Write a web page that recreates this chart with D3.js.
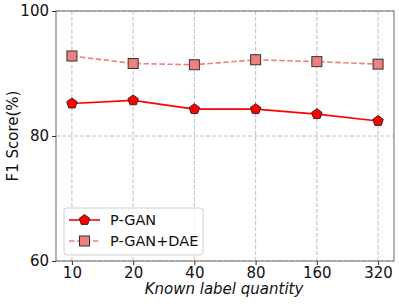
<!DOCTYPE html>
<html><head><meta charset="utf-8">
<script src="https://cdn.jsdelivr.net/npm/d3@7"></script>
<style>body{margin:0;background:#fff}svg{display:block}text{font-family:"DejaVu Sans",sans-serif}</style>
</head><body>
<svg id="c" width="399" height="306"></svg>
<script>
const categories = ["10","20","40","80","160","320"];
const pgan = [85.2, 85.7, 84.3, 84.3, 83.5, 82.4];
const pganDae = [92.8, 91.6, 91.4, 92.2, 91.9, 91.5];
const yTicks = [60, 80, 100];
const seriesNames = ["P-GAN", "P-GAN+DAE"];

const svg = d3.select("#c");
const L = 56, R = 394, T = 11, B = 261;
const x = d3.scalePoint().domain(categories).range([L, R]).padding(0.26);
const y = d3.scaleLinear().domain([60, 100]).range([B, T]);

// grid
const g = svg.append("g");
g.selectAll(".vx").data(categories).join("line")
  .attr("x1", d => x(d)).attr("x2", d => x(d)).attr("y1", T).attr("y2", B)
  .attr("stroke", "#b0b0b0").attr("stroke-width", 0.8).attr("stroke-dasharray", "4,2");
g.selectAll(".hy").data(yTicks).join("line")
  .attr("x1", L).attr("x2", R).attr("y1", d => y(d)).attr("y2", d => y(d))
  .attr("stroke", "#b0b0b0").attr("stroke-width", 0.8).attr("stroke-dasharray", "4,2");

// lines
const line = d3.line().x((d, i) => x(categories[i])).y(d => y(d));
svg.append("path").datum(pganDae).attr("d", line).attr("fill", "none")
  .attr("stroke", "#f08080").attr("stroke-width", 1.6).attr("stroke-dasharray", "5.5,2.5");
svg.append("path").datum(pgan).attr("d", line).attr("fill", "none")
  .attr("stroke", "red").attr("stroke-width", 1.6);

function pentagonPath(cx, cy, r) {
  const pts = d3.range(5).map(k => {
    const a = -Math.PI / 2 + k * 2 * Math.PI / 5;
    return [cx + r * Math.cos(a), cy + r * Math.sin(a)];
  });
  return "M" + pts.map(p => p.join(",")).join("L") + "Z";
}
svg.selectAll(".sq").data(pganDae).join("rect")
  .attr("x", (d, i) => x(categories[i]) - 5).attr("y", d => y(d) - 5)
  .attr("width", 10).attr("height", 10)
  .attr("fill", "#f08080").attr("stroke", "#333").attr("stroke-width", 1);
svg.selectAll(".pt").data(pgan).join("path")
  .attr("d", (d, i) => pentagonPath(x(categories[i]), y(d), 5.5))
  .attr("fill", "red").attr("stroke", "#222").attr("stroke-width", 0.9);

// axes frame
svg.append("rect").attr("x", L).attr("y", T).attr("width", R - L).attr("height", B - T)
  .attr("fill", "none").attr("stroke", "#808080").attr("stroke-width", 1.2);

const xa = svg.append("g").attr("transform", `translate(0,${B})`)
  .call(d3.axisBottom(x).tickSize(4).tickPadding(2));
const ya = svg.append("g").attr("transform", `translate(${L},0)`)
  .call(d3.axisLeft(y).tickValues(yTicks).tickSize(4).tickPadding(3));
[xa, ya].forEach(a => {
  a.select(".domain").remove();
  a.selectAll("line").attr("stroke", "#333");
  a.selectAll("text").attr("font-size", 15).attr("fill", "#111").attr("font-family", "DejaVu Sans");
});

svg.append("text").attr("x", (L + R) / 2 - 1).attr("y", 294).attr("text-anchor", "middle")
  .attr("font-size", 15).attr("font-style", "italic").attr("fill", "#111").text("Known label quantity");
svg.append("text").attr("transform", `translate(18,${(T + B) / 2}) rotate(-90)`)
  .attr("text-anchor", "middle").attr("font-size", 15).attr("fill", "#111").text("F1 Score(%)");

// legend
const lg = svg.append("g").attr("transform", "translate(64,208)");
lg.append("rect").attr("width", 139).attr("height", 47).attr("rx", 3)
  .attr("fill", "white").attr("fill-opacity", 0.8).attr("stroke", "#d0d0d0");
lg.append("line").attr("x1", 5).attr("x2", 36).attr("y1", 12).attr("y2", 12)
  .attr("stroke", "red").attr("stroke-width", 1.6);
lg.append("path").attr("d", pentagonPath(20.5, 12, 5.5)).attr("fill", "red").attr("stroke", "#222").attr("stroke-width", 0.9);
lg.append("line").attr("x1", 5).attr("x2", 36).attr("y1", 33).attr("y2", 33)
  .attr("stroke", "#f08080").attr("stroke-width", 1.6).attr("stroke-dasharray", "5.5,2.5");
lg.append("rect").attr("x", 15.5).attr("y", 28).attr("width", 10).attr("height", 10)
  .attr("fill", "#f08080").attr("stroke", "#333");
lg.selectAll(".lt").data(seriesNames).join("text")
  .attr("x", 46).attr("y", (d, i) => 17 + i * 21).attr("font-size", 14.5).attr("fill", "#111").text(d => d);
</script>
</body></html>
